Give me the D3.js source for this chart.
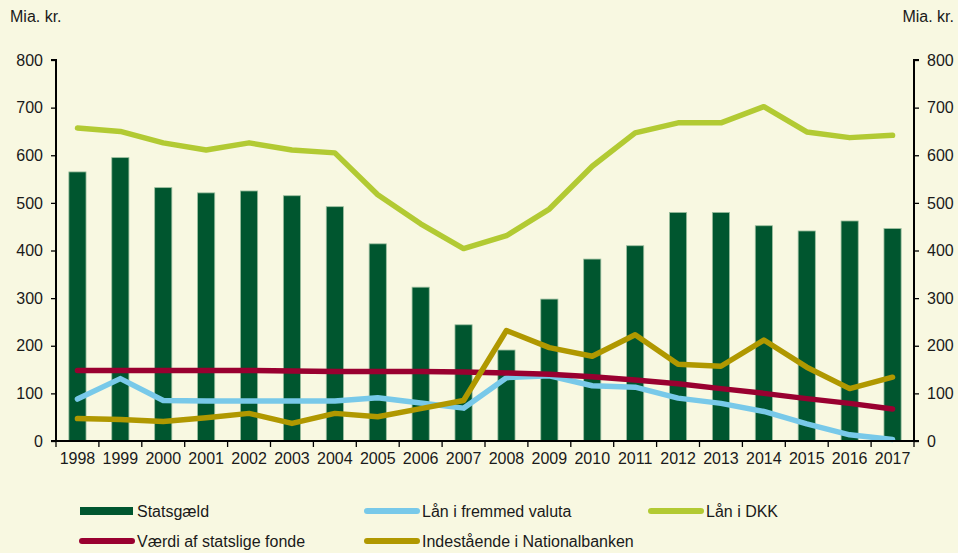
<!DOCTYPE html>
<html lang="da">
<head>
<meta charset="utf-8">
<title>Statsgæld</title>
<script src="https://d3js.org/d3.v7.min.js"></script>
<style>
  body { margin: 0; background: #f8f8e1; }
  svg { display: block; font-family: Arial, "Liberation Sans", sans-serif; }
</style>
</head>
<body>
<script>
// data
var years = ["1998","1999","2000","2001","2002","2003","2004","2005","2006","2007",
             "2008","2009","2010","2011","2012","2013","2014","2015","2016","2017"];
var statsgaeld = [565, 595, 532, 521, 525, 515, 492, 414, 323, 244,
                  191, 298, 382, 410, 480, 480, 452, 441, 462, 446];
var laanFremmed = [88, 131, 85, 84, 84, 84, 84, 91, 80, 69,
                   133, 137, 116, 113, 90, 79, 62, 36, 13, 3];
var laanDKK = [657, 650, 626, 611, 626, 611, 605, 517, 456, 404,
               431, 487, 577, 647, 668, 668, 702, 649, 637, 642];
var fonde = [148, 148, 148, 148, 148, 147, 146, 146, 146, 145,
             143, 140, 135, 128, 120, 110, 100, 89, 79, 67];
var indestaaende = [47, 45, 41, 49, 58, 37, 58, 51, 68, 85,
                    232, 196, 178, 223, 161, 157, 212, 155, 110, 134];
var yTicks = [0, 100, 200, 300, 400, 500, 600, 700, 800];

var w = 958, h = 553;
var margin = {left: 56, right: 44, top: 60, bottom: 112};

var svg = d3.select("body").append("svg")
  .attr("width", w)
  .attr("height", h);

svg.append("rect").attr("width", w).attr("height", h).attr("fill", "#f8f8e1");

var x = d3.scaleBand()
  .domain(years)
  .range([margin.left, w - margin.right]);

var y = d3.scaleLinear()
  .domain([0, 800])
  .range([h - margin.bottom, margin.top]);

// bars
svg.selectAll("rect.bar")
  .data(statsgaeld)
  .enter()
  .append("rect")
  .attr("class", "bar")
  .attr("x", function(d, i) { return x(years[i]) + x.bandwidth() * 0.3; })
  .attr("width", x.bandwidth() * 0.4)
  .attr("y", function(d) { return y(d); })
  .attr("height", function(d) { return y(0) - y(d); })
  .attr("fill", "#00562f")
  .attr("stroke", "#9cbf9f")
  .attr("stroke-width", 0.8);

var line = d3.line()
  .x(function(d, i) { return x(years[i]) + x.bandwidth() / 2; })
  .y(function(d) { return y(d); });

var series = [
  {name: "Lån i DKK", values: laanDKK, color: "#b2ca33"},
  {name: "Lån i fremmed valuta", values: laanFremmed, color: "#78c9e9"},
  {name: "Værdi af statslige fonde", values: fonde, color: "#990030"},
  {name: "Indestående i Nationalbanken", values: indestaaende, color: "#b09800"}
];

series.forEach(function(s) {
  svg.append("path")
    .datum(s.values)
    .attr("d", line)
    .attr("fill", "none")
    .attr("stroke", s.color)
    .attr("stroke-width", 5.5)
    .attr("stroke-linejoin", "round")
    .attr("stroke-linecap", "round");
});

// axes
var yLeft = d3.axisLeft(y).tickValues(yTicks).tickSize(5).tickPadding(8);
var yRight = d3.axisRight(y).tickValues(yTicks).tickSize(5).tickPadding(8);

var gl = svg.append("g").attr("transform", "translate(" + margin.left + ",0)").call(yLeft);
var gr = svg.append("g").attr("transform", "translate(" + (w - margin.right) + ",0)").call(yRight);

var xAxis = d3.axisBottom(x).tickSize(0).tickPadding(12);
var gx = svg.append("g").attr("transform", "translate(0," + y(0) + ")").call(xAxis);

// tick marks between the years
gx.selectAll("line.sep")
  .data(d3.range(years.length + 1))
  .enter()
  .append("line")
  .attr("class", "sep")
  .attr("x1", function(i) { return margin.left + i * x.step(); })
  .attr("x2", function(i) { return margin.left + i * x.step(); })
  .attr("y1", 0)
  .attr("y2", 6)
  .attr("stroke", "#000")
  .attr("stroke-width", 1.3);

[gl, gr, gx].forEach(function(g) {
  g.selectAll(".domain").attr("stroke", "#000").attr("stroke-width", 2);
  g.selectAll(".tick line").attr("stroke", "#000").attr("stroke-width", 1.3);
  g.selectAll("text").attr("font-size", 16).attr("fill", "#1a1a1a")
    .attr("font-family", "Arial, 'Liberation Sans', sans-serif");
});
gl.select(".domain").attr("d", "M-5," + y(800) + "H0V" + y(0) + "H-5");
gr.select(".domain").attr("d", "M5," + y(800) + "H0V" + y(0) + "H5");
gx.select(".domain").attr("d", "M" + margin.left + ",0H" + (w - margin.right));

// unit labels
svg.append("text").attr("x", 10).attr("y", 22).attr("font-size", 16).attr("fill", "#1a1a1a").text("Mia. kr.");
svg.append("text").attr("x", 954).attr("y", 22).attr("font-size", 16).attr("fill", "#1a1a1a")
  .attr("text-anchor", "end").text("Mia. kr.");

// legend
var legend = [
  {name: "Statsgæld", color: "#00562f", bar: true, x: 80, y: 511},
  {name: "Lån i fremmed valuta", color: "#78c9e9", x: 365, y: 511},
  {name: "Lån i DKK", color: "#b2ca33", x: 649, y: 511},
  {name: "Værdi af statslige fonde", color: "#990030", x: 80, y: 541},
  {name: "Indestående i Nationalbanken", color: "#b09800", x: 365, y: 541}
];

var lg = svg.selectAll("g.legend")
  .data(legend)
  .enter()
  .append("g")
  .attr("class", "legend")
  .attr("transform", function(d) { return "translate(" + d.x + "," + d.y + ")"; });

lg.filter(function(d) { return d.bar; })
  .append("rect")
  .attr("x", 0).attr("y", -4).attr("width", 53).attr("height", 8)
  .attr("fill", function(d) { return d.color; });

lg.filter(function(d) { return !d.bar; })
  .append("line")
  .attr("x1", 2).attr("x2", 52).attr("y1", 0).attr("y2", 0)
  .attr("stroke", function(d) { return d.color; })
  .attr("stroke-width", 6)
  .attr("stroke-linecap", "round");

lg.append("text")
  .attr("x", 57)
  .attr("y", 6)
  .attr("font-size", 16)
  .attr("fill", "#1a1a1a")
  .text(function(d) { return d.name; });
</script>
</body>
</html>
